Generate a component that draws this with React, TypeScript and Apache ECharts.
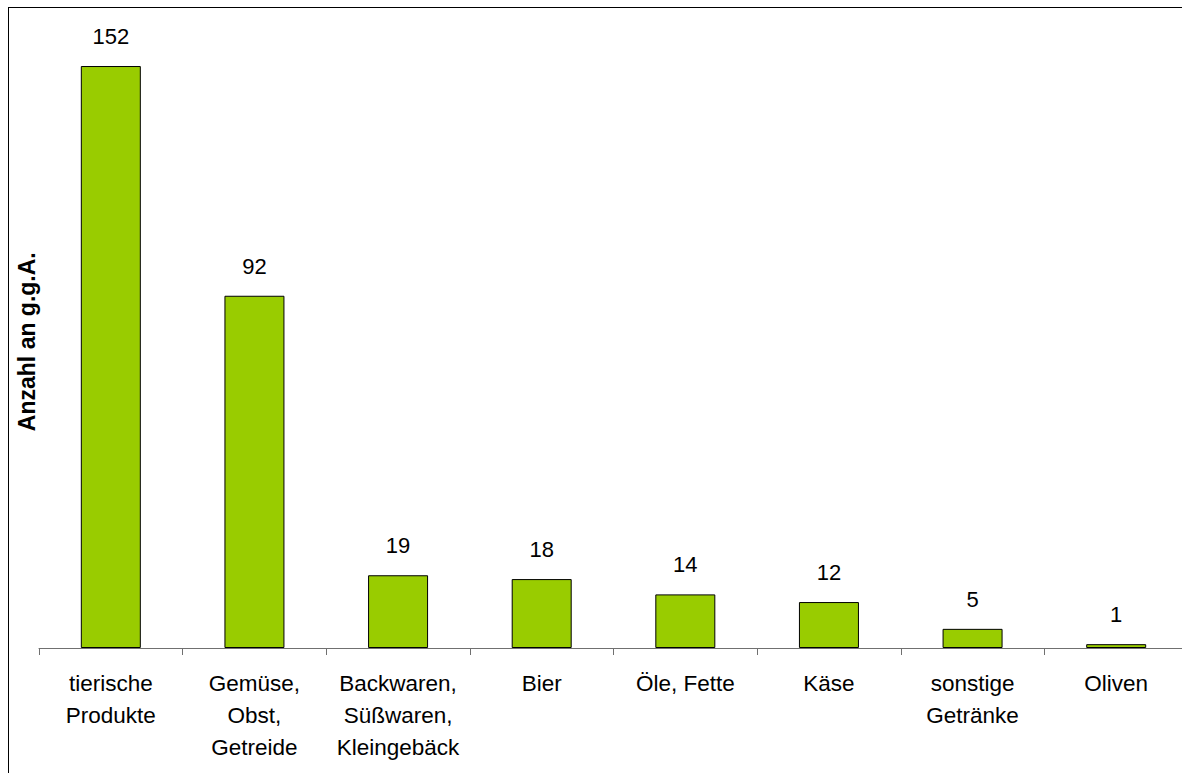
import React, { useEffect, useRef } from "react";
import * as echarts from "echarts";

const categories = [
  "tierische\nProdukte",
  "Gemüse,\nObst,\nGetreide",
  "Backwaren,\nSüßwaren,\nKleingebäck",
  "Bier",
  "Öle, Fette",
  "Käse",
  "sonstige\nGetränke",
  "Oliven",
];
const values = [152, 92, 19, 18, 14, 12, 5, 1];
const yAxisTitle = "Anzahl an g.g.A.";

const FONT = "'Liberation Sans', Arial, sans-serif";

export default function App() {
  const ref = useRef<HTMLDivElement>(null);
  useEffect(() => {
    if (!ref.current) return;
    const chart = echarts.init(ref.current, null, { renderer: "svg" });
    chart.setOption({
      animation: false,
      backgroundColor: "#ffffff",
      textStyle: { fontFamily: FONT },
      grid: {
        left: 30,
        top: 27.4,
        width: 1149,
        height: 612.6,
        containLabel: false,
        outerBoundsMode: "none",
      },
      xAxis: {
        type: "category",
        data: categories,
        axisLine: { show: true, lineStyle: { color: "#707070", width: 1 } },
        axisTick: { show: true, length: 7, lineStyle: { color: "#707070" } },
        axisLabel: {
          color: "#000",
          fontSize: 22.5,
          fontFamily: FONT,
          lineHeight: 32,
          margin: 19,
          interval: 0,
        },
      },
      yAxis: {
        type: "value",
        min: 0,
        max: 160,
        axisLine: { show: false },
        axisTick: { show: false },
        axisLabel: { show: false },
        splitLine: { show: false },
        name: yAxisTitle,
        nameLocation: "middle",
        nameRotate: 90,
        nameGap: 1,
        nameTextStyle: {
          color: "#000",
          fontSize: 23,
          fontWeight: "bold",
          fontFamily: FONT,
        },
      },
      series: [
        {
          type: "bar",
          data: values,
          barWidth: 60,
          itemStyle: { color: "#99CC00", borderColor: "#000", borderWidth: 1 },
          label: {
            show: true,
            position: "top",
            distance: 18.5,
            color: "#000",
            fontSize: 22,
            fontFamily: FONT,
          },
        },
      ],
    });
    return () => chart.dispose();
  }, []);
  return (
    <div
      style={{
        position: "fixed",
        left: 8,
        top: 7,
        right: 0,
        bottom: 0,
        overflow: "hidden",
        borderLeft: "1px solid #000",
        borderTop: "1px solid #000",
        background: "#fff",
      }}
    >
      <div ref={ref} style={{ width: 1200, height: 800 }} />
    </div>
  );
}
